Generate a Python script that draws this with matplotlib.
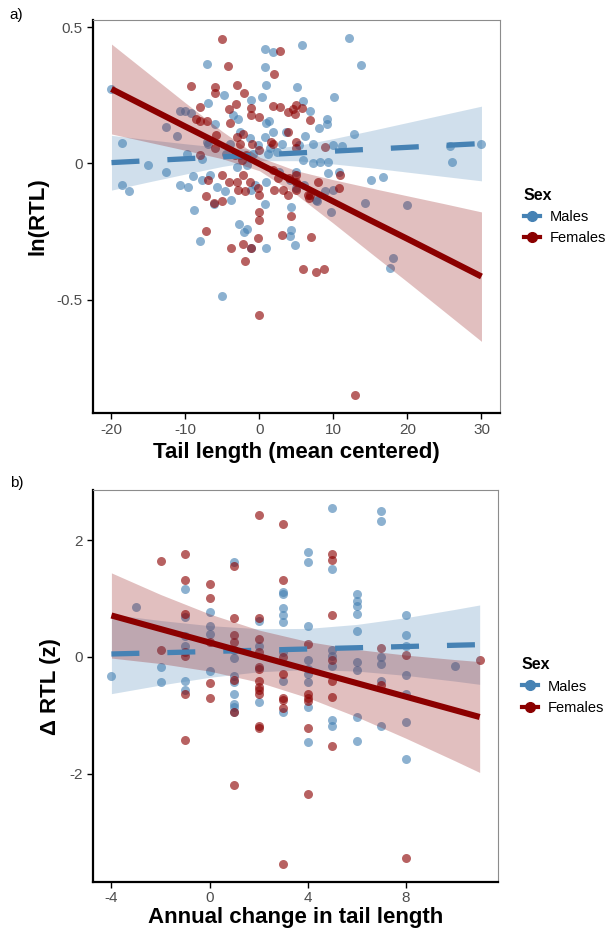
import numpy as np
import matplotlib.pyplot as plt
from matplotlib.lines import Line2D

plt.rcParams['font.family'] = ['Liberation Sans', 'DejaVu Sans']

# ---- panel a: ln(RTL) vs tail length (mean centered) ----
male_tail = [-20.0, -18.6, -18.6, -17.6, -15.0, -12.7, -12.7, -11.1, -10.8, -10.1, -9.3, -10.8, -9.7,
             -7.1, -7.0, -4.8, -7.1, -9.0, -7.8, 0.8, 1.8, 5.8, 0.8, 0.9, 5.1, 10.1, -1.2, 0.3, 5.9,
             6.8, -3.6, -2.9, 0.9, 1.3, 9.1, 8.1, -6.0, -2.6, 1.8, 3.6, 6.1, 0.8, -1.3, -6.9, -4.0,
             -0.2, 3.0, 5.4, 7.2, 9.9, 1.4, -4.5, -2.7, -0.9, 12.1, 13.7, 9.1, 12.8, 11.1, 25.7,
             30.0, 26.0, 7.2, 8.2, 9.2, 5.9, 9.2, 10.8, 15.1, 16.7, 14.2, 20.0, 9.9, 8.8, 7.7, 5.0,
             5.0, 9.7, 7.8, 4.3, 4.3, 4.1, 4.8, 18.1, 17.7, -8.8, -6.2, -3.8, 0.8, -8.1, -2.8, -1.7,
             -2.1, -1.1, 0.9, -5.1, -9.8, -7.8, -6.7, -5.8, -4.7, 1.1, 2.3, -3.1, -1.7, 0.9, -0.6,
             -1.1, 2.7, 4.1, 6.0]
male_lnrtl = [0.273, 0.075, -0.079, -0.101, -0.006, -0.030, 0.133, 0.099, 0.193, 0.193, 0.185, -0.080,
              -0.085, 0.364, 0.222, 0.251, 0.080, -0.048, -0.062, 0.418, 0.408, 0.434, 0.354, 0.287,
              0.279, 0.242, 0.234, 0.242, 0.228, 0.194, 0.178, 0.164, 0.149, 0.154, 0.164, 0.130,
              0.145, 0.115, 0.117, 0.115, 0.100, 0.097, 0.093, 0.073, 0.073, 0.069, 0.073, 0.066,
              0.073, 0.066, 0.055, 0.036, 0.030, 0.036, 0.461, 0.360, 0.145, 0.109, 0.064, 0.064,
              0.073, 0.006, 0.002, 0.006, 0.006, 0.012, -0.036, -0.030, -0.061, -0.051, -0.145,
              -0.154, -0.097, -0.103, -0.133, -0.030, -0.091, -0.179, -0.139, -0.161, -0.246, -0.265,
              -0.301, -0.346, -0.382, -0.172, -0.148, -0.133, -0.148, -0.283, -0.221, -0.239, -0.252,
              -0.309, -0.312, -0.488, 0.036, 0.018, -0.042, -0.085, -0.103, 0.036, 0.042, -0.012,
              -0.006, -0.067, -0.079, -0.097, -0.030, -0.061, -0.079]
fem_tail = [-5.1, -4.2, -9.2, -6.0, -6.0, -3.1, -2.1, -8.1, -7.1, -4.1, -3.2, -8.6, -5.9, -4.0, -3.1,
            -2.2, -1.1, 0.0, 1.8, 2.8, 2.8, 1.9, -6.0, -8.1, -3.3, -2.4, -1.8, -1.0, 0.0, 1.6, 3.9,
            3.9, 4.5, -5.1, -4.1, -6.9, -2.2, -1.3, -0.2, -2.9, -7.2, -5.1, -6.2, 2.5, 4.0, 2.0, 3.2,
            -1.1, 4.9, 4.8, 5.8, 6.8, -8.1, -2.7, 1.8, 8.9, 4.9, 4.9, 10.9, 10.8, 7.9, 5.0, 5.0, 6.8,
            6.9, 5.9, 7.7, 8.7, 12.9, 4.2, 6.7, -7.2, -3.8, -2.2, -1.2, -2.0, -0.1, -0.1, -0.2, 3.0,
            0.0, -3.1, -2.0, 0.0, 3.9, 5.0, 6.6, 1.8]
fem_lnrtl = [0.457, 0.357, 0.285, 0.279, 0.260, 0.288, 0.258, 0.206, 0.157, 0.200, 0.218, 0.164, 0.105,
             0.148, 0.097, 0.109, 0.176, 0.170, 0.212, 0.206, 0.412, 0.327, 0.055, 0.030, 0.030,
             0.012, 0.030, 0.073, 0.048, 0.079, 0.115, 0.188, 0.200, -0.043, -0.067, -0.061, -0.043,
             -0.067, -0.091, -0.097, -0.121, -0.139, -0.145, -0.055, -0.055, -0.097, -0.097, 0.203,
             0.215, 0.182, 0.204, 0.160, 0.157, 0.073, 0.073, 0.061, 0.079, 0.055, -0.043, -0.091,
             -0.067, -0.043, -0.067, -0.115, -0.269, -0.388, -0.400, -0.388, -0.849, -0.194, -0.127,
             -0.248, -0.312, -0.294, -0.312, -0.358, -0.179, -0.206, -0.275, -0.263, -0.555, -0.067,
             -0.103, -0.115, -0.115, -0.097, -0.115, -0.024]

# fitted lines and 95% bands
fit_x_a = [-20, -15, -10, -5, 0, 5, 10, 15, 20, 25, 30]
male_fit_a = [0.003, 0.010, 0.017, 0.024, 0.031, 0.038, 0.045, 0.052, 0.059, 0.066, 0.073]
male_lo_a = [-0.098, -0.068, -0.039, -0.011, 0.010, 0.010, -0.002, -0.016, -0.032, -0.048, -0.064]
male_hi_a = [0.103, 0.087, 0.072, 0.058, 0.051, 0.065, 0.091, 0.120, 0.150, 0.180, 0.210]
fem_fit_a = [0.273, 0.204, 0.135, 0.067, -0.002, -0.071, -0.140, -0.209, -0.277, -0.346, -0.415]
fem_lo_a = [0.108, 0.078, 0.048, 0.017, -0.027, -0.115, -0.220, -0.328, -0.435, -0.544, -0.653]
fem_hi_a = [0.438, 0.330, 0.222, 0.117, 0.023, -0.027, -0.060, -0.090, -0.119, -0.148, -0.178]

# ---- panel b: change in RTL vs annual change in tail length ----
male_dtail = [-4, -3, -2, -2, -1, -1, -1, -1, -1, -1, 0, 0, 0, 0, 1, 1, 1, 1, 1, 1, 1, 1, 1,
              2, 2, 2, 3, 3, 3, 3, 3, 3, 3, 3, 4, 4, 4, 4, 4, 4, 4, 4, 4, 5, 5, 5, 5, 5, 5, 5,
              6, 6, 6, 6, 6, 6, 6, 6, 6, 7, 7, 7, 7, 7, 7, 8, 8, 8, 8, 8, 8, 8, 10]
male_drtl = [-0.32, 0.85, -0.17, -0.43, 1.17, 0.69, 0.36, 0.19, -0.42, -0.56, 0.77, 0.53, 0.39, -0.24,
             1.63, 0.11, -0.02, -0.32, -0.43, -0.64, -0.80, -0.85, -0.94, 0.62, 0.19, -0.78, 1.12,
             1.07, 0.83, 0.71, 0.59, 0.09, -0.42, -0.94, 1.79, 1.62, 0.53, -0.06, -0.20, -0.29,
             -0.43, -0.86, -1.46, 2.55, 1.50, 0.11, 0.02, -0.15, -1.08, -1.18, 1.07, 0.95, 0.88,
             0.73, 0.45, -0.09, -0.23, -1.03, -1.44, 2.50, 2.33, 0.00, -0.12, -0.41, -1.19, 0.71,
             0.38, 0.19, -0.31, -0.64, -1.12, -1.75, -0.15]
fem_dtail = [-2, -2, -1, -1, -1, -1, -1, -1, -1, 0, 0, 0, 0, 0, 1, 1, 1, 1, 1, 1, 1, 2, 2, 2, 2, 2,
             2, 2, 2, 2, 2, 2, 2, 3, 3, 3, 3, 3, 3, 3, 3, 4, 4, 4, 4, 4, 4, 5, 5, 5, 5, 5, 5, 5, 7,
             7, 8, 8, 11]
fem_drtl = [1.64, 0.11, 1.76, 1.32, 0.73, 0.08, 0.02, -0.63, -1.42, 1.25, 1.01, 0.25, -0.44, -0.71,
            1.56, 0.67, 0.37, 0.25, -0.40, -0.94, -2.19, 2.44, 0.66, 0.31, 0.08, -0.17, -0.20, -0.42,
            -0.51, -0.57, -0.63, -1.19, -1.22, 2.28, 1.32, 0.00, -0.29, -0.71, -0.74, -0.87, -3.55,
            0.22, -0.64, -0.71, -0.75, -1.22, -2.35, 1.77, 1.66, 0.71, -0.06, -0.42, -0.68, -1.52,
            0.15, -0.49, 0.03, -3.44, -0.05]

fit_x_b = [-4, -2, 0, 2, 4, 6, 8, 10, 11]
male_fit_b = [0.05, 0.071, 0.093, 0.114, 0.136, 0.157, 0.178, 0.20, 0.21]
male_lo_b = [-0.63, -0.482, -0.35, -0.255, -0.216, -0.243, -0.317, -0.415, -0.47]
male_hi_b = [0.73, 0.624, 0.536, 0.483, 0.488, 0.557, 0.673, 0.815, 0.89]
fem_fit_b = [0.71, 0.478, 0.246, 0.014, -0.218, -0.45, -0.682, -0.914, -1.03]
fem_lo_b = [-0.02, -0.114, -0.244, -0.433, -0.699, -1.028, -1.395, -1.782, -1.98]
fem_hi_b = [1.44, 1.07, 0.736, 0.461, 0.263, 0.128, 0.031, -0.046, -0.08]

BLUE = '#4682B4'
RED = '#8B0000'

fig = plt.figure(figsize=(6.11, 9.33), dpi=100)
ax1 = fig.add_axes([0.1522, 0.5573, 0.6661, 0.4212])
ax2 = fig.add_axes([0.1522, 0.0545, 0.6630, 0.4203])


def panel(ax, mx, my, fx, fy, xs, mfit, mlo, mhi, ffit, flo, fhi):
    ax.scatter(mx, my, s=42, color=BLUE, alpha=0.62, linewidths=0, zorder=1)
    ax.scatter(fx, fy, s=42, color=RED, alpha=0.62, linewidths=0, zorder=1)
    ax.fill_between(xs, mlo, mhi, color=BLUE, alpha=0.25, linewidth=0, zorder=2)
    ax.fill_between(xs, flo, fhi, color=RED, alpha=0.25, linewidth=0, zorder=2)
    ax.plot(xs, mfit, color=BLUE, lw=3.8, ls=(0, (5.3, 5.3)), dash_capstyle='butt', zorder=3)
    ax.plot(xs, ffit, color=RED, lw=4.4, solid_capstyle='butt', zorder=4)
    for s in ['left', 'bottom']:
        ax.spines[s].set_linewidth(1.6)
        ax.spines[s].set_color('black')
    for s in ['top', 'right']:
        ax.spines[s].set_linewidth(0.8)
        ax.spines[s].set_color('#8c8c8c')
    ax.tick_params(direction='out', length=4, width=1, colors='black', labelcolor='#4d4d4d',
                   labelsize=11, top=False, right=False)
    handles = [Line2D([], [], color=BLUE, lw=3, marker='o', ms=7),
               Line2D([], [], color=RED, lw=3, marker='o', ms=7)]
    leg = ax.legend(handles, ['Males', 'Females'], title='Sex', loc='center left',
                    bbox_to_anchor=(1.04, 0.5), frameon=False, fontsize=10.5,
                    title_fontproperties={'weight': 'bold', 'size': 11.5},
                    handlelength=1.1, handletextpad=0.7, labelspacing=0.5,
                    alignment='left', borderpad=0)
    return leg


panel(ax1, male_tail, male_lnrtl, fem_tail, fem_lnrtl, fit_x_a,
      male_fit_a, male_lo_a, male_hi_a, fem_fit_a, fem_lo_a, fem_hi_a)
ax1.set_xlim(-22.5, 32.5)
ax1.set_ylim(-0.916, 0.526)
ax1.set_xticks([-20, -10, 0, 10, 20, 30], ['-20', '-10', '0', '10', '20', '30'])
ax1.set_yticks([-0.5, 0, 0.5], ['-0.5', '0', '0.5'])
ax1.set_xlabel('Tail length (mean centered)', fontsize=16, fontweight='bold', labelpad=3)
ax1.set_ylabel('ln(RTL)', fontsize=16, fontweight='bold', labelpad=6)

panel(ax2, male_dtail, male_drtl, fem_dtail, fem_drtl, fit_x_b,
      male_fit_b, male_lo_b, male_hi_b, fem_fit_b, fem_lo_b, fem_hi_b)
ax2.set_xlim(-4.75, 11.75)
ax2.set_ylim(-3.86, 2.86)
ax2.set_xticks([-4, 0, 4, 8], ['-4', '0', '4', '8'])
ax2.set_yticks([-2, 0, 2], ['-2', '0', '2'])
ax2.tick_params(axis='x', pad=2.5)
ax2.set_xlabel('Annual change in tail length', fontsize=16, fontweight='bold', labelpad=1)
ax2.set_ylabel('\u0394 RTL (z)', fontsize=16, fontweight='bold', labelpad=6)

fig.text(0.016, 0.984, 'a)', fontsize=11, va='center', ha='left')
fig.text(0.016, 0.482, 'b)', fontsize=11, va='center', ha='left')

fig.savefig('out.png', dpi=100)
